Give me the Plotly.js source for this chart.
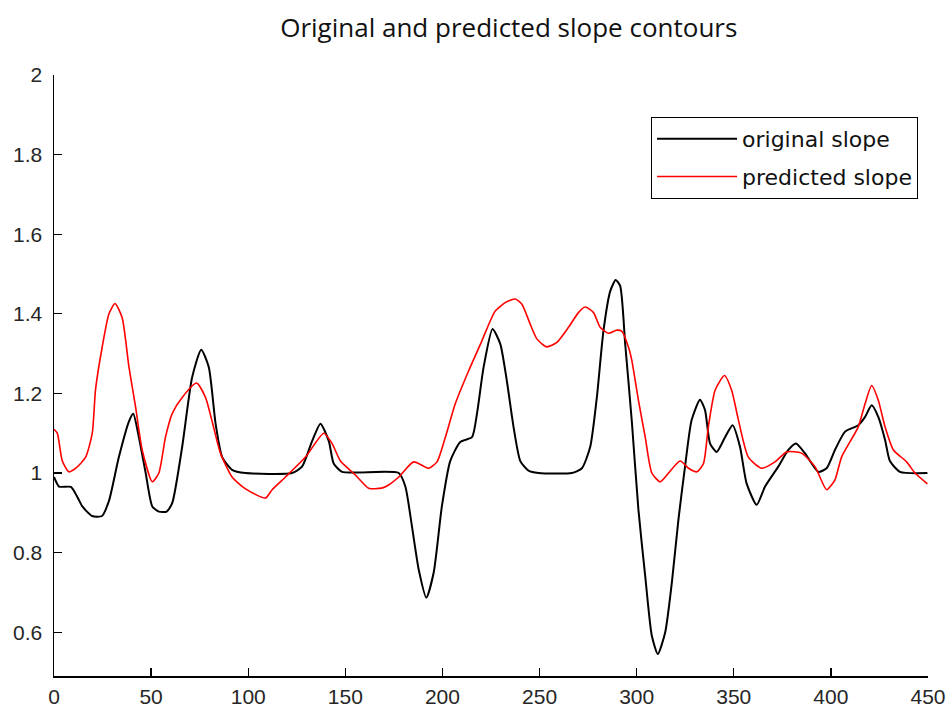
<!DOCTYPE html>
<html>
<head>
<meta charset="utf-8">
<script src="https://cdn.plot.ly/plotly-3.0.1.min.js"></script>
<style>html,body{margin:0;padding:0;background:#fff;}#chart{width:951px;height:707px;}</style>
</head>
<body>
<div id="chart"></div>
<script>
// ---- data ----
var seriesNames = ["original slope", "predicted slope"];

var originalX = [0, 2.6, 8.7, 12, 14.6, 19.6, 24.7, 28.3, 33.4, 38.6, 40.8, 43.7, 47.2, 50.6, 54, 58, 60.9, 66, 71.1, 75.8, 79.7, 83.2, 86.6, 91.7, 98.6, 122.5, 127.7, 132.9, 137.2, 141.5, 144, 148.3, 177.5, 180.9, 184.3, 187.8, 191.7, 195.5, 199.7, 204, 209.2, 215.2, 217.8, 221.2, 225.8, 229.8, 233.2, 236.6, 240.1, 244.3, 249.5, 266.6, 271.8, 276.1, 279.5, 282.9, 286.4, 289.2, 291.5, 294.1, 297.5, 300.9, 304.4, 307.8, 310.9, 314.7, 318.1, 321.5, 324.9, 328.3, 332.6, 335.2, 337.8, 341.2, 345.5, 349.4, 353.2, 356.6, 361.8, 366.1, 372.9, 378.1, 382, 386.6, 393.5, 397.8, 402.1, 407.3, 414.1, 417.6, 421, 424.4, 427.9, 430.4, 435.6, 449.7];
var originalY = [0.99, 0.966, 0.965, 0.94, 0.916, 0.892, 0.892, 0.93, 1.04, 1.13, 1.149, 1.09, 1.0, 0.916, 0.903, 0.903, 0.925, 1.066, 1.24, 1.31, 1.266, 1.124, 1.04, 1.008, 1.0, 1.0, 1.016, 1.08, 1.124, 1.08, 1.024, 1.003, 1.0, 0.966, 0.866, 0.757, 0.687, 0.75, 0.916, 1.03, 1.078, 1.09, 1.15, 1.266, 1.362, 1.324, 1.23, 1.116, 1.03, 1.006, 1.0, 1.0, 1.012, 1.066, 1.19, 1.357, 1.457, 1.485, 1.47, 1.324, 1.13, 0.908, 0.741, 0.591, 0.545, 0.6, 0.724, 0.883, 1.016, 1.133, 1.184, 1.158, 1.074, 1.053, 1.09, 1.12, 1.066, 0.974, 0.92, 0.966, 1.016, 1.058, 1.074, 1.05, 1.003, 1.012, 1.058, 1.104, 1.12, 1.141, 1.17, 1.141, 1.083, 1.03, 1.003, 1.0];

var predictedX = [0, 1.7, 4.3, 7.7, 11.2, 16.3, 19.7, 21.4, 24.8, 28.3, 31.4, 35.1, 38.6, 42, 45.4, 50.6, 54, 57.4, 60.9, 66, 73.4, 78, 81.4, 85.7, 91.7, 98.6, 108.9, 112.3, 119.2, 129.5, 138.9, 143.2, 147.5, 155.2, 162, 168.7, 172.3, 177.5, 185.2, 192.9, 197.2, 201.5, 206.6, 213.5, 220.3, 224.6, 227.2, 232.3, 237.5, 240.9, 245.2, 248.6, 253.7, 258.9, 264.9, 270, 273.5, 277.8, 281.2, 285.5, 289.8, 292.4, 295.8, 297.5, 300.9, 304.4, 307.8, 312.1, 316.4, 322.4, 326.7, 331, 334.4, 336.9, 340.4, 345.2, 348.9, 352.4, 357.5, 364.4, 371.2, 377.2, 384.9, 391.8, 397.8, 402.1, 405.5, 414.1, 417.6, 421, 424.4, 427.9, 432.2, 439, 443.3, 449.7];
var predictedY = [1.11, 1.1, 1.03, 1.003, 1.012, 1.04, 1.1, 1.21, 1.316, 1.4, 1.426, 1.39, 1.266, 1.166, 1.058, 0.978, 1.0, 1.09, 1.15, 1.19, 1.226, 1.19, 1.13, 1.05, 0.99, 0.96, 0.937, 0.958, 0.99, 1.04, 1.1, 1.074, 1.03, 0.995, 0.962, 0.962, 0.97, 0.99, 1.028, 1.012, 1.028, 1.09, 1.174, 1.257, 1.332, 1.382, 1.407, 1.428, 1.437, 1.424, 1.374, 1.337, 1.317, 1.328, 1.366, 1.403, 1.417, 1.403, 1.366, 1.351, 1.359, 1.356, 1.316, 1.283, 1.183, 1.09, 1.0, 0.978, 1.0, 1.03, 1.012, 1.003, 1.024, 1.116, 1.208, 1.245, 1.208, 1.133, 1.04, 1.012, 1.028, 1.053, 1.05, 1.016, 0.958, 0.983, 1.04, 1.116, 1.174, 1.22, 1.183, 1.116, 1.058, 1.028, 1.0, 0.973];

var xTickVals = [0, 50, 100, 150, 200, 250, 300, 350, 400, 450];
var yTickVals = [0.6, 0.8, 1, 1.2, 1.4, 1.6, 1.8, 2];
var yTickText = ["0.6", "0.8", "1", "1.2", "1.4", "1.6", "1.8", "2"];
var chartTitle = "Original and predicted slope contours";

// ---- chart ----
var traces = [
  {x: originalX, y: originalY, name: seriesNames[0], legendgroup: "g1", type: "scatter", mode: "lines",
   line: {color: "#000000", width: 2, shape: "spline", smoothing: 0.6}},
  {x: predictedX, y: predictedY, name: seriesNames[1], legendgroup: "g2", type: "scatter", mode: "lines",
   line: {color: "#ff0000", width: 1.6, shape: "spline", smoothing: 0.6}}
];

var tickFont = {family: "'Liberation Sans', Arial, sans-serif", size: 21, color: "#262626"};

var layout = {
  width: 951, height: 707,
  paper_bgcolor: "#ffffff", plot_bgcolor: "#ffffff",
  margin: {l: 54, r: 23, t: 75, b: 31, pad: 0},
  title: {text: chartTitle, x: 0.535, xanchor: "center", y: 0.96, yanchor: "middle",
          font: {family: "'Open Sans', sans-serif", size: 26, color: "#111111"}},
  showlegend: true,
  legend: {x: 0.9886, xanchor: "right", y: 0.93, yanchor: "top",
           bordercolor: "#000000", borderwidth: 1, bgcolor: "#ffffff",
           itemwidth: 80, tracegroupgap: 6,
           font: {family: "'DejaVu Sans', sans-serif", size: 22, color: "#111111"}},
  xaxis: {range: [0, 450], tickvals: xTickVals, ticks: "inside", ticklen: 8, tickwidth: 1.3,
          tickcolor: "#000", showline: true, linecolor: "#000", linewidth: 1.5,
          showgrid: false, zeroline: false, tickfont: tickFont, ticklabelstandoff: 1},
  yaxis: {range: [0.49, 2], tickvals: yTickVals, ticktext: yTickText, ticks: "inside", ticklen: 8, tickwidth: 1.3,
          tickcolor: "#000", showline: true, linecolor: "#000", linewidth: 1.5,
          showgrid: false, zeroline: false, tickfont: tickFont, ticklabelstandoff: 6}
};

Plotly.newPlot("chart", traces, layout, {displayModeBar: false, staticPlot: true});
</script>
</body>
</html>
